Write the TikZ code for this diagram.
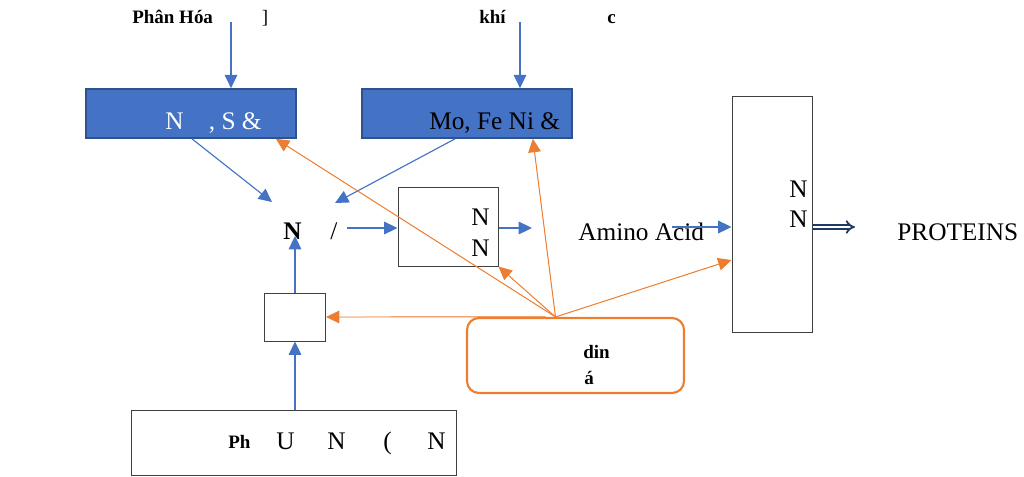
\documentclass[tikz,border=0pt]{standalone}
\usepackage{fontspec}
\setmainfont{Liberation Serif}
\usetikzlibrary{arrows.meta,positioning,calc}
\definecolor{boxblue}{HTML}{4472C4}
\definecolor{boxedge}{HTML}{2F528F}
\definecolor{orng}{HTML}{ED7D31}
\definecolor{navy}{HTML}{203864}
\tikzset{
	bluebox/.style={draw=boxedge,line width=1.2pt,fill=boxblue,minimum width=5.25cm,minimum height=1.225cm,inner sep=0},
	plainbox/.style={draw=black!75,line width=0.7pt,fill=white,inner sep=0},
	orangebox/.style={draw=orng,line width=1.5pt,rounded corners=0.3cm,minimum width=5.425cm,minimum height=1.875cm,inner sep=0},
	bluearrow/.style={-{Triangle[width=9pt,length=9.5pt]},draw=boxblue,fill=boxblue,line width=0.8pt},
	orangearrow/.style={-{Triangle[width=9pt,length=9.5pt]},draw=orng,fill=orng,line width=0.7pt},
	dblarrow/.style={draw=navy,double=white,double distance=1.8pt,line width=1.3pt,-{Implies[length=4pt]}},
	boldlbl/.style={font=\fontsize{13.5}{16}\selectfont\bfseries,inner sep=0},
	plainlbl/.style={font=\fontsize{13.5}{16}\selectfont,inner sep=0},
	txt/.style={font=\fontsize{18}{21.6}\selectfont,inner sep=0}
}
\begin{document}
\begin{tikzpicture}[x=0.025cm,y=-0.025cm]
	\useasboundingbox (0,0) rectangle (1024,476);
	%%% top labels
	\node[boldlbl,anchor=base west] (phanhoa) at (132,23) {Phân Hóa};
	\node[plainlbl] (brk) at (265,18) {]};
	\node[boldlbl,anchor=base west] (khi) at (479,23) {khí};
	\node[boldlbl,anchor=base west] (cc) at (607,23) {c};
	\coordinate (in1) at (231,22);
	\coordinate (in2) at (520,22);
	
	%%% blue boxes
	\node[bluebox] (b1) at (191,113.5) {};
	\node[bluebox] (b2) at (467,113.5) {};
	\node[txt,text=white,anchor=base west] (b1t) at (165,129) {N\quad, S \&};
	\node[txt,anchor=base west] (b2t) at (429,129) {Mo, Fe Ni \&};
	\draw[bluearrow] (in1) -- (in1 |- b1.north);
	\draw[bluearrow] (in2) -- (in2 |- b2.north);
	
	%%% middle row
	\node[txt,font=\fontsize{18}{21.6}\selectfont\bfseries,anchor=base west] (nn) at (283,239) {N};
	\node[txt,anchor=base west] (slash) at (330,239) {/};
	\node[plainbox,minimum width=2.5cm,minimum height=1.975cm] (b3) at (448,226.5) {};
	\node[txt,anchor=base west] (b3n1) at (471,225) {N};
	\node[txt,anchor=base west] (b3n2) at (471,256) {N};
	\node[txt,anchor=base west] (amino) at (578,240) {Amino Acid};
	\node[plainbox,minimum width=2cm,minimum height=5.875cm] (b4) at (772,214.5) {};
	\node[txt,anchor=base west] (b4n1) at (789,197) {N};
	\node[txt,anchor=base west] (b4n2) at (789,227) {N};
	\node[txt,anchor=base west] (prot) at (897,240) {PROTEINS};
	
	\coordinate (t1) at (272,202);
	\coordinate (t2) at (335,203);
	\coordinate (s1) at (347,228);
	\coordinate (s2) at (532,228);
	\coordinate (a1) at (672,227);
	\coordinate (p1) at (855,227);
	\draw[bluearrow] ([xshift=0.025cm]b1.south) -- (t1);
	\draw[bluearrow] ([xshift=-0.3cm]b2.south) -- (t2);
	\draw[bluearrow] (s1) -- (s1 -| b3.west);
	\draw[bluearrow] (b3.east |- s2) -- (s2);
	\draw[bluearrow] (a1) -- (a1 -| b4.west);
	\draw[dblarrow] (b4.east |- p1) -- (p1);
	
	%%% lower part
	\node[plainbox,minimum width=1.525cm,minimum height=1.2cm] (b5) at (295,317) {};
	\node[plainbox,minimum width=8.1cm,minimum height=1.625cm] (b6) at (294,442.5) {};
	\node[boldlbl,anchor=base west] (ph) at (228,448) {Ph};
	\foreach \x/\g [count=\i] in {276/U,327/N,383/(,427/N}
		\node[txt,anchor=base west] (g\i) at (\x,449) {\g};
	\coordinate (nb) at (295,236);
	\draw[bluearrow] (b6.north -| b5) -- (b5.south);
	\draw[bluearrow] (b5.north) -- (nb);
	
	\node[orangebox] (b7) at (575.5,355.5) {};
	\node[boldlbl,anchor=base west] (din) at (583,358) {din};
	\node[boldlbl,anchor=base west] (aa) at (584,384) {á};
	
	%%% orange connectors
	\coordinate (o) at ([xshift=-0.5cm]b7.north);
	\draw[orangearrow] (o) -- ([xshift=-0.525cm]b1.south east);
	\draw[orangearrow] (o) -- ([xshift=-1cm]b2.south east);
	\draw[orangearrow] (o) -- (b3.south east);
	\draw[orangearrow] (o) -- ([yshift=-1.1375cm]b4.west);
	\draw[orangearrow] ([xshift=-0.75cm]b7.north) -- (b5.east);
\end{tikzpicture}
\end{document}
